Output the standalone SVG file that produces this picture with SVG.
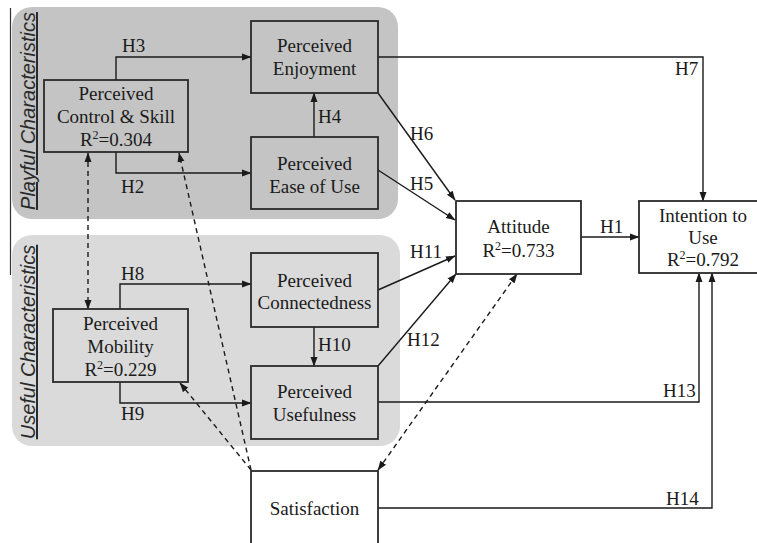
<svg xmlns="http://www.w3.org/2000/svg" width="757" height="543" viewBox="0 0 757 543">
<defs>
<marker id="ah" markerUnits="userSpaceOnUse" markerWidth="10" markerHeight="8" refX="9" refY="4" orient="auto-start-reverse" viewBox="0 0 10 8">
<path d="M0,0.5 L9.5,4 L0,7.5 z" fill="#1a1a1a"/>
</marker>
<style>
.grp{stroke:none}
.box{fill:none;stroke:#2a2a2a;stroke-width:1.8}
.wbox{fill:#ffffff;stroke:#2a2a2a;stroke-width:1.8}
.t{font-family:"Liberation Serif","Times New Roman",serif;font-size:19px;fill:#1a1a1a;text-anchor:middle}
.lbl{font-family:"Liberation Serif","Times New Roman",serif;font-size:19px;fill:#1a1a1a}
.cat{font-family:"Liberation Sans",Arial,sans-serif;font-size:20px;font-style:italic;text-decoration:underline;fill:#2a2a2a;text-anchor:middle}
.c{fill:none;stroke:#1a1a1a;stroke-width:1.4}
.a{marker-end:url(#ah)}
.d{fill:none;stroke:#1a1a1a;stroke-width:1.4;stroke-dasharray:5 4}
.sup{font-size:12px}
</style>
</defs>
<rect width="757" height="543" fill="#ffffff"/>
<line x1="10.5" y1="8" x2="10.5" y2="275" stroke="#333" stroke-width="1.2"/>
<g id="playful-group">
<rect class="grp" x="12" y="7" width="386" height="212" rx="20" fill="#c4c4c4"/>
<text class="cat" transform="translate(35,111) rotate(-90)">Playful Characteristics</text>
</g>
<g id="useful-group">
<rect class="grp" x="12" y="235" width="388" height="211" rx="20" fill="#dadada"/>
<text class="cat" transform="translate(35,342) rotate(-90)">Useful Characteristics</text>
</g>
<g id="connectors">
<path class="c a" d="M116,80 V57 H251"/>
<path class="c a" d="M116,152 V173 H251"/>
<path class="c a" d="M314,137 V93"/>
<path class="c a" d="M378,57 H703 V201"/>
<path class="c a" d="M378,93 L455,200"/>
<path class="c a" d="M378,170 L455,220"/>
<path class="c a" d="M378,290 L455,256"/>
<path class="c a" d="M378,366 L456,274"/>
<path class="c a" d="M581,237 H639"/>
<path class="c a" d="M378,402 H699 V273"/>
<path class="c a" d="M378,508 H712 V273"/>
<path class="c a" d="M120,309 V284 H251"/>
<path class="c a" d="M120,382 V403 H251"/>
<path class="c a" d="M314,327 V366"/>
<path class="d a" d="M88,153 V309" marker-start="url(#ah)"/>
<path class="d a" d="M251,470 L179,153"/>
<path class="d a" d="M251,470 L180,383"/>
<path class="d a" d="M378,470 L517,274" marker-start="url(#ah)"/>
<text class="lbl" x="122" y="52">H3</text>
<text class="lbl" x="121" y="193">H2</text>
<text class="lbl" x="318" y="123">H4</text>
<text class="lbl" x="675" y="75">H7</text>
<text class="lbl" x="410" y="140">H6</text>
<text class="lbl" x="410" y="190">H5</text>
<text class="lbl" x="410" y="258">H11</text>
<text class="lbl" x="600" y="233">H1</text>
<text class="lbl" x="407" y="346">H12</text>
<text class="lbl" x="663" y="397">H13</text>
<text class="lbl" x="666" y="505">H14</text>
<text class="lbl" x="121" y="280">H8</text>
<text class="lbl" x="121" y="420">H9</text>
<text class="lbl" x="318" y="351">H10</text>
</g>
<g id="control">
<rect class="box" x="44" y="80" width="144" height="72"/>
<text class="t" x="116" y="100">Perceived</text>
<text class="t" x="116" y="123">Control &amp; Skill</text>
<text class="t" x="116" y="146">R<tspan class="sup" dy="-7">2</tspan><tspan dy="7">=0.304</tspan></text>
</g>
<g id="enjoyment">
<rect class="box" x="251" y="21" width="127" height="72"/>
<text class="t" x="314.5" y="52">Perceived</text>
<text class="t" x="314.5" y="75">Enjoyment</text>
</g>
<g id="ease">
<rect class="box" x="251" y="137" width="127" height="72"/>
<text class="t" x="314.5" y="170">Perceived</text>
<text class="t" x="314.5" y="193">Ease of Use</text>
</g>
<g id="connectedness">
<rect class="box" x="251" y="253" width="127" height="74"/>
<text class="t" x="314.5" y="287">Perceived</text>
<text class="t" x="314.5" y="309">Connectedness</text>
</g>
<g id="mobility">
<rect class="box" x="53" y="309" width="135" height="73"/>
<text class="t" x="120.5" y="330">Perceived</text>
<text class="t" x="120.5" y="353">Mobility</text>
<text class="t" x="120.5" y="376">R<tspan class="sup" dy="-7">2</tspan><tspan dy="7">=0.229</tspan></text>
</g>
<g id="usefulness">
<rect class="box" x="251" y="366" width="127" height="73"/>
<text class="t" x="314.5" y="398">Perceived</text>
<text class="t" x="314.5" y="421">Usefulness</text>
</g>
<g id="attitude">
<rect class="wbox" x="456" y="201" width="125" height="73"/>
<text class="t" x="518.5" y="233">Attitude</text>
<text class="t" x="518.5" y="257">R<tspan class="sup" dy="-7">2</tspan><tspan dy="7">=0.733</tspan></text>
</g>
<g id="intention">
<rect class="wbox" x="639" y="201" width="130" height="72"/>
<text class="t" x="703" y="222">Intention to</text>
<text class="t" x="703" y="244">Use</text>
<text class="t" x="703" y="266">R<tspan class="sup" dy="-7">2</tspan><tspan dy="7">=0.792</tspan></text>
</g>
<g id="satisfaction">
<rect class="wbox" x="251" y="471" width="127" height="90"/>
<text class="t" x="314.5" y="515">Satisfaction</text>
</g>
</svg>
